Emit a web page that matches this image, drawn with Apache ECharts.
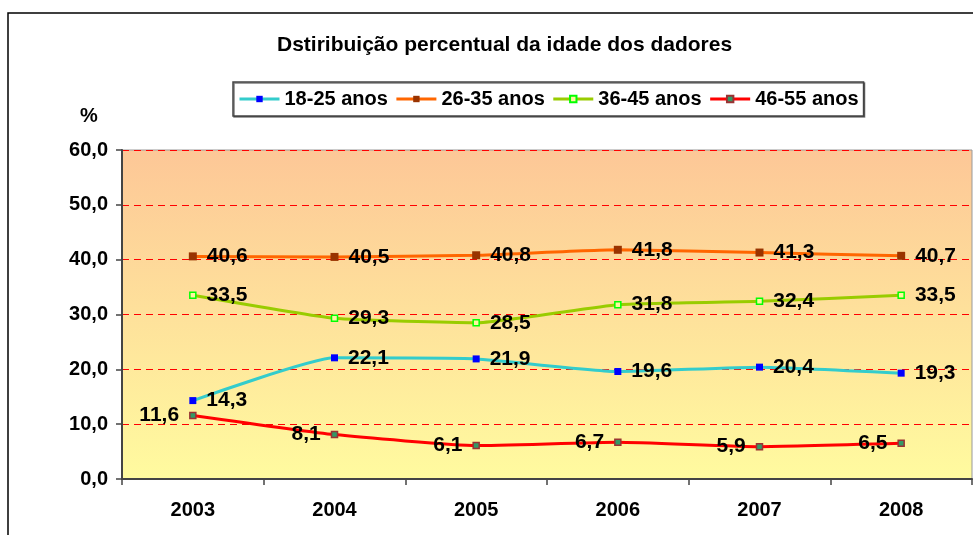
<!DOCTYPE html>
<html>
<head>
<meta charset="utf-8">
<script src="https://cdn.jsdelivr.net/npm/echarts@6/dist/echarts.min.js"></script>
<style>
  html, body { margin: 0; padding: 0; background: #fff; }
  #chart { width: 973px; height: 535px; }
</style>
</head>
<body>
<div id="chart"></div>
<script>
var anos = ['2003', '2004', '2005', '2006', '2007', '2008'];
var idade18_25 = [14.3, 22.1, 21.9, 19.6, 20.4, 19.3];
var idade26_35 = [40.6, 40.5, 40.8, 41.8, 41.3, 40.7];
var idade36_45 = [33.5, 29.3, 28.5, 31.8, 32.4, 33.5];
var idade46_55 = [11.6, 8.1, 6.1, 6.7, 5.9, 6.5];

var fonte = "'Liberation Sans', Arial, sans-serif";

function fmt(v) {
    return v.toFixed(1).replace('.', ','); // virgula decimal
}

function serie(nome, dados, cor, simbolo, posLabel) {
    return {
        name: nome,
        type: 'line',
        data: dados,
        smooth: 0.15,
        symbol: 'rect',
        symbolSize: simbolo.size,
        lineStyle: { color: cor, width: 3 },
        itemStyle: {
            color: simbolo.fill,
            borderColor: simbolo.border,
            borderWidth: simbolo.borderWidth
        },
        label: {
            show: true,
            position: posLabel,
            distance: 10,
            color: '#000',
            fontFamily: fonte,
            fontWeight: 'bold',
            fontSize: 21,
            formatter: function (p) { return fmt(p.value); }
        }
    };
}

var myChart = echarts.init(document.getElementById('chart'));
var option = {
    animation: false,
    title: {
        text: 'Dstiribuição percentual da idade dos dadores',
        left: 272,
        top: 30,
        textStyle: {
            fontFamily: fonte,
            fontWeight: 'bold',
            fontSize: 21,
            color: '#000'
        }
    },
    graphic: [{
        type: 'rect',
        z: -10,
        shape: { x: 8, y: 13, width: 1000, height: 600 },
        style: { fill: 'none', stroke: '#000', lineWidth: 1.5 }
    }, {
        type: 'text',
        left: 80,
        top: 106,
        style: {
            text: '%',
            fontFamily: fonte,
            fontWeight: 'bold',
            fontSize: 20,
            fill: '#000'
        }
    }],
    legend: {
        left: 233,
        top: 82,
        padding: [7, 5],
        itemGap: 7,
        itemWidth: 40,
        itemHeight: 8,
        borderColor: '#444',
        borderWidth: 1.5,
        backgroundColor: '#fff',
        shadowColor: 'rgba(0,0,0,0.5)',
        shadowOffsetX: 1,
        shadowOffsetY: 1,
        lineStyle: { width: 3 },
        textStyle: {
            fontFamily: fonte,
            fontWeight: 'bold',
            fontSize: 20,
            color: '#000'
        },
        data: ['18-25 anos', '26-35 anos', '36-45 anos', '46-55 anos']
    },
    grid: {
        left: 122,
        right: 1,
        top: 150,
        bottom: 56,
        show: true,
        borderColor: '#999',
        borderWidth: 1,
        backgroundColor: new echarts.graphic.LinearGradient(0, 0, 0, 1, [
            { offset: 0, color: '#FDC797' },
            { offset: 1, color: '#FFFB9F' }
        ])
    },
    xAxis: {
        type: 'category',
        data: anos,
        boundaryGap: true,
        axisLine: { lineStyle: { color: '#444', width: 2 } },
        axisTick: { show: true, length: 6, lineStyle: { color: '#444', width: 1.5 } },
        axisLabel: {
            margin: 21,
            color: '#000',
            fontFamily: fonte,
            fontWeight: 'bold',
            fontSize: 20
        }
    },
    yAxis: {
        type: 'value',
        min: 0,
        max: 60,
        interval: 10,
        axisLine: { show: true, lineStyle: { color: '#444', width: 2 } },
        axisTick: { show: true, length: 6, lineStyle: { color: '#444', width: 1.5 } },
        axisLabel: {
            margin: 14,
            color: '#000',
            fontFamily: fonte,
            fontWeight: 'bold',
            fontSize: 20,
            formatter: function (v) { return fmt(v); }
        },
        splitLine: {
            show: true,
            lineStyle: { color: '#FF0000', type: [7, 5], width: 1 }
        }
    },
    series: [
        serie('18-25 anos', idade18_25, '#33CCCC',
            { size: 7, fill: '#0000FF', border: '#0000FF', borderWidth: 0 }, 'right'),
        serie('26-35 anos', idade26_35, '#FF6600',
            { size: 8, fill: '#993300', border: '#993300', borderWidth: 0 }, 'right'),
        serie('36-45 anos', idade36_45, '#99CC00',
            { size: 6, fill: '#FFF5A0', border: '#00FF00', borderWidth: 1.5 }, 'right'),
        serie('46-55 anos', idade46_55, '#FF0000',
            { size: 6, fill: '#339966', border: '#993333', borderWidth: 1.5 }, 'left')
    ]
};

if (option && typeof option === "object") {
    myChart.setOption(option, true);
}
</script>
</body>
</html>
